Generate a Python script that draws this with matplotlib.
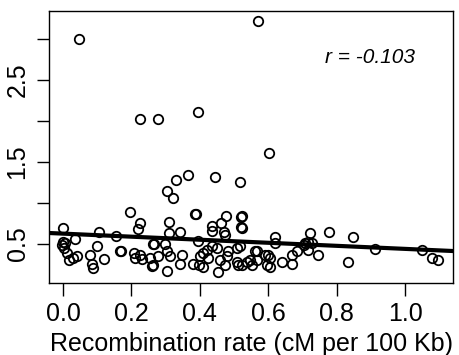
import numpy as np
import matplotlib.pyplot as plt

plt.rcParams['font.family'] = ['Liberation Sans', 'DejaVu Sans']

# recombination rate (cM per 100 Kb) and the y value of each point
rec_rate = np.array([
    0.047, 0.570, 0.395, 0.225, 0.278, 0.602, 0.365, 0.330, 0.444, 0.518,
    0.304, 0.322, 0.520, 0.520,
    0.001, 0.000, -0.003, 0.006, 0.004, 0.011, 0.016, 0.030, 0.040, 0.035,
    0.079, 0.084, 0.087, 0.098, 0.121, 0.105, 0.155, 0.167, 0.170, 0.196,
    0.225, 0.220, 0.206, 0.210, 0.225, 0.230, 0.254, 0.261, 0.264,
    0.386, 0.389, 0.310, 0.310, 0.342, 0.477, 0.522, 0.522, 0.461, 0.435,
    0.435, 0.471, 0.394, 0.267, 0.298, 0.303, 0.313, 0.279, 0.347, 0.342,
    0.264, 0.305, 0.381, 0.400, 0.410, 0.420, 0.435, 0.449, 0.425, 0.396,
    0.410, 0.454, 0.459, 0.479, 0.483, 0.474, 0.508, 0.518, 0.508, 0.522,
    0.537, 0.547, 0.561, 0.552, 0.512, 0.474,
    0.620, 0.620, 0.566, 0.566, 0.590, 0.600, 0.605, 0.596, 0.605, 0.639,
    0.668, 0.668, 0.683, 0.703, 0.708, 0.717, 0.727, 0.722, 0.717, 0.746,
    0.778, 0.849, 0.834,
    0.912, 1.049, 1.078, 1.097,
])
value = np.array([
    3.00, 3.22, 2.11, 2.02, 2.02, 1.61, 1.34, 1.28, 1.32, 1.26,
    1.15, 1.06, 0.83, 0.71,
    0.70, 0.53, 0.49, 0.51, 0.45, 0.39, 0.30, 0.33, 0.35, 0.56,
    0.37, 0.26, 0.21, 0.47, 0.32, 0.64, 0.60, 0.41, 0.41, 0.89,
    0.75, 0.68, 0.39, 0.33, 0.37, 0.32, 0.33, 0.23, 0.50,
    0.87, 0.86, 0.77, 0.63, 0.65, 0.84, 0.84, 0.70, 0.75, 0.72,
    0.66, 0.64, 0.54, 0.50, 0.50, 0.41, 0.35, 0.35, 0.37, 0.26,
    0.24, 0.17, 0.26, 0.35, 0.39, 0.43, 0.47, 0.45, 0.33, 0.24,
    0.22, 0.16, 0.30, 0.35, 0.41, 0.24, 0.45, 0.47, 0.28, 0.24,
    0.28, 0.30, 0.41, 0.24, 0.24, 0.61,
    0.59, 0.51, 0.41, 0.30, 0.37, 0.37, 0.33, 0.24, 0.22, 0.28,
    0.37, 0.26, 0.41, 0.49, 0.51, 0.53, 0.51, 0.63, 0.43, 0.37,
    0.64, 0.58, 0.28,
    0.44, 0.43, 0.33, 0.30,
])

# regression line
line_intercept = 0.626
line_slope = -0.186
r_label = 'r = -0.103'

fig = plt.figure(figsize=(4.59, 3.55), dpi=100)
ax = fig.add_axes([0.1068, 0.2028, 0.8802, 0.7662])

ax.plot(rec_rate, value, 'o', ms=6.8, mfc='none', mec='black', mew=1.3)
ax.axline((0, line_intercept), slope=line_slope, color='black', lw=3)

ax.set_xlim(-0.041, 1.14)
ax.set_ylim(0.024, 3.34)
ax.set_xticks([0.0, 0.2, 0.4, 0.6, 0.8, 1.0])
ax.set_xticklabels(['0.0', '0.2', '0.4', '0.6', '0.8', '1.0'])
ax.set_yticks([0.5, 1.0, 1.5, 2.0, 2.5, 3.0])
ax.set_yticklabels(['0.5', '', '1.5', '', '2.5', ''], rotation=90, va='center')
ax.tick_params(length=9, width=1, labelsize=18, pad=5)
for s in ax.spines.values():
    s.set_linewidth(1)

ax.set_xlabel('Recombination rate (cM per 100 Kb)', fontsize=18, labelpad=4)
ax.text(0.795, 0.83, r_label, transform=ax.transAxes, fontsize=15,
        style='italic', ha='center', va='center')

fig.savefig('out.png', dpi=100)
